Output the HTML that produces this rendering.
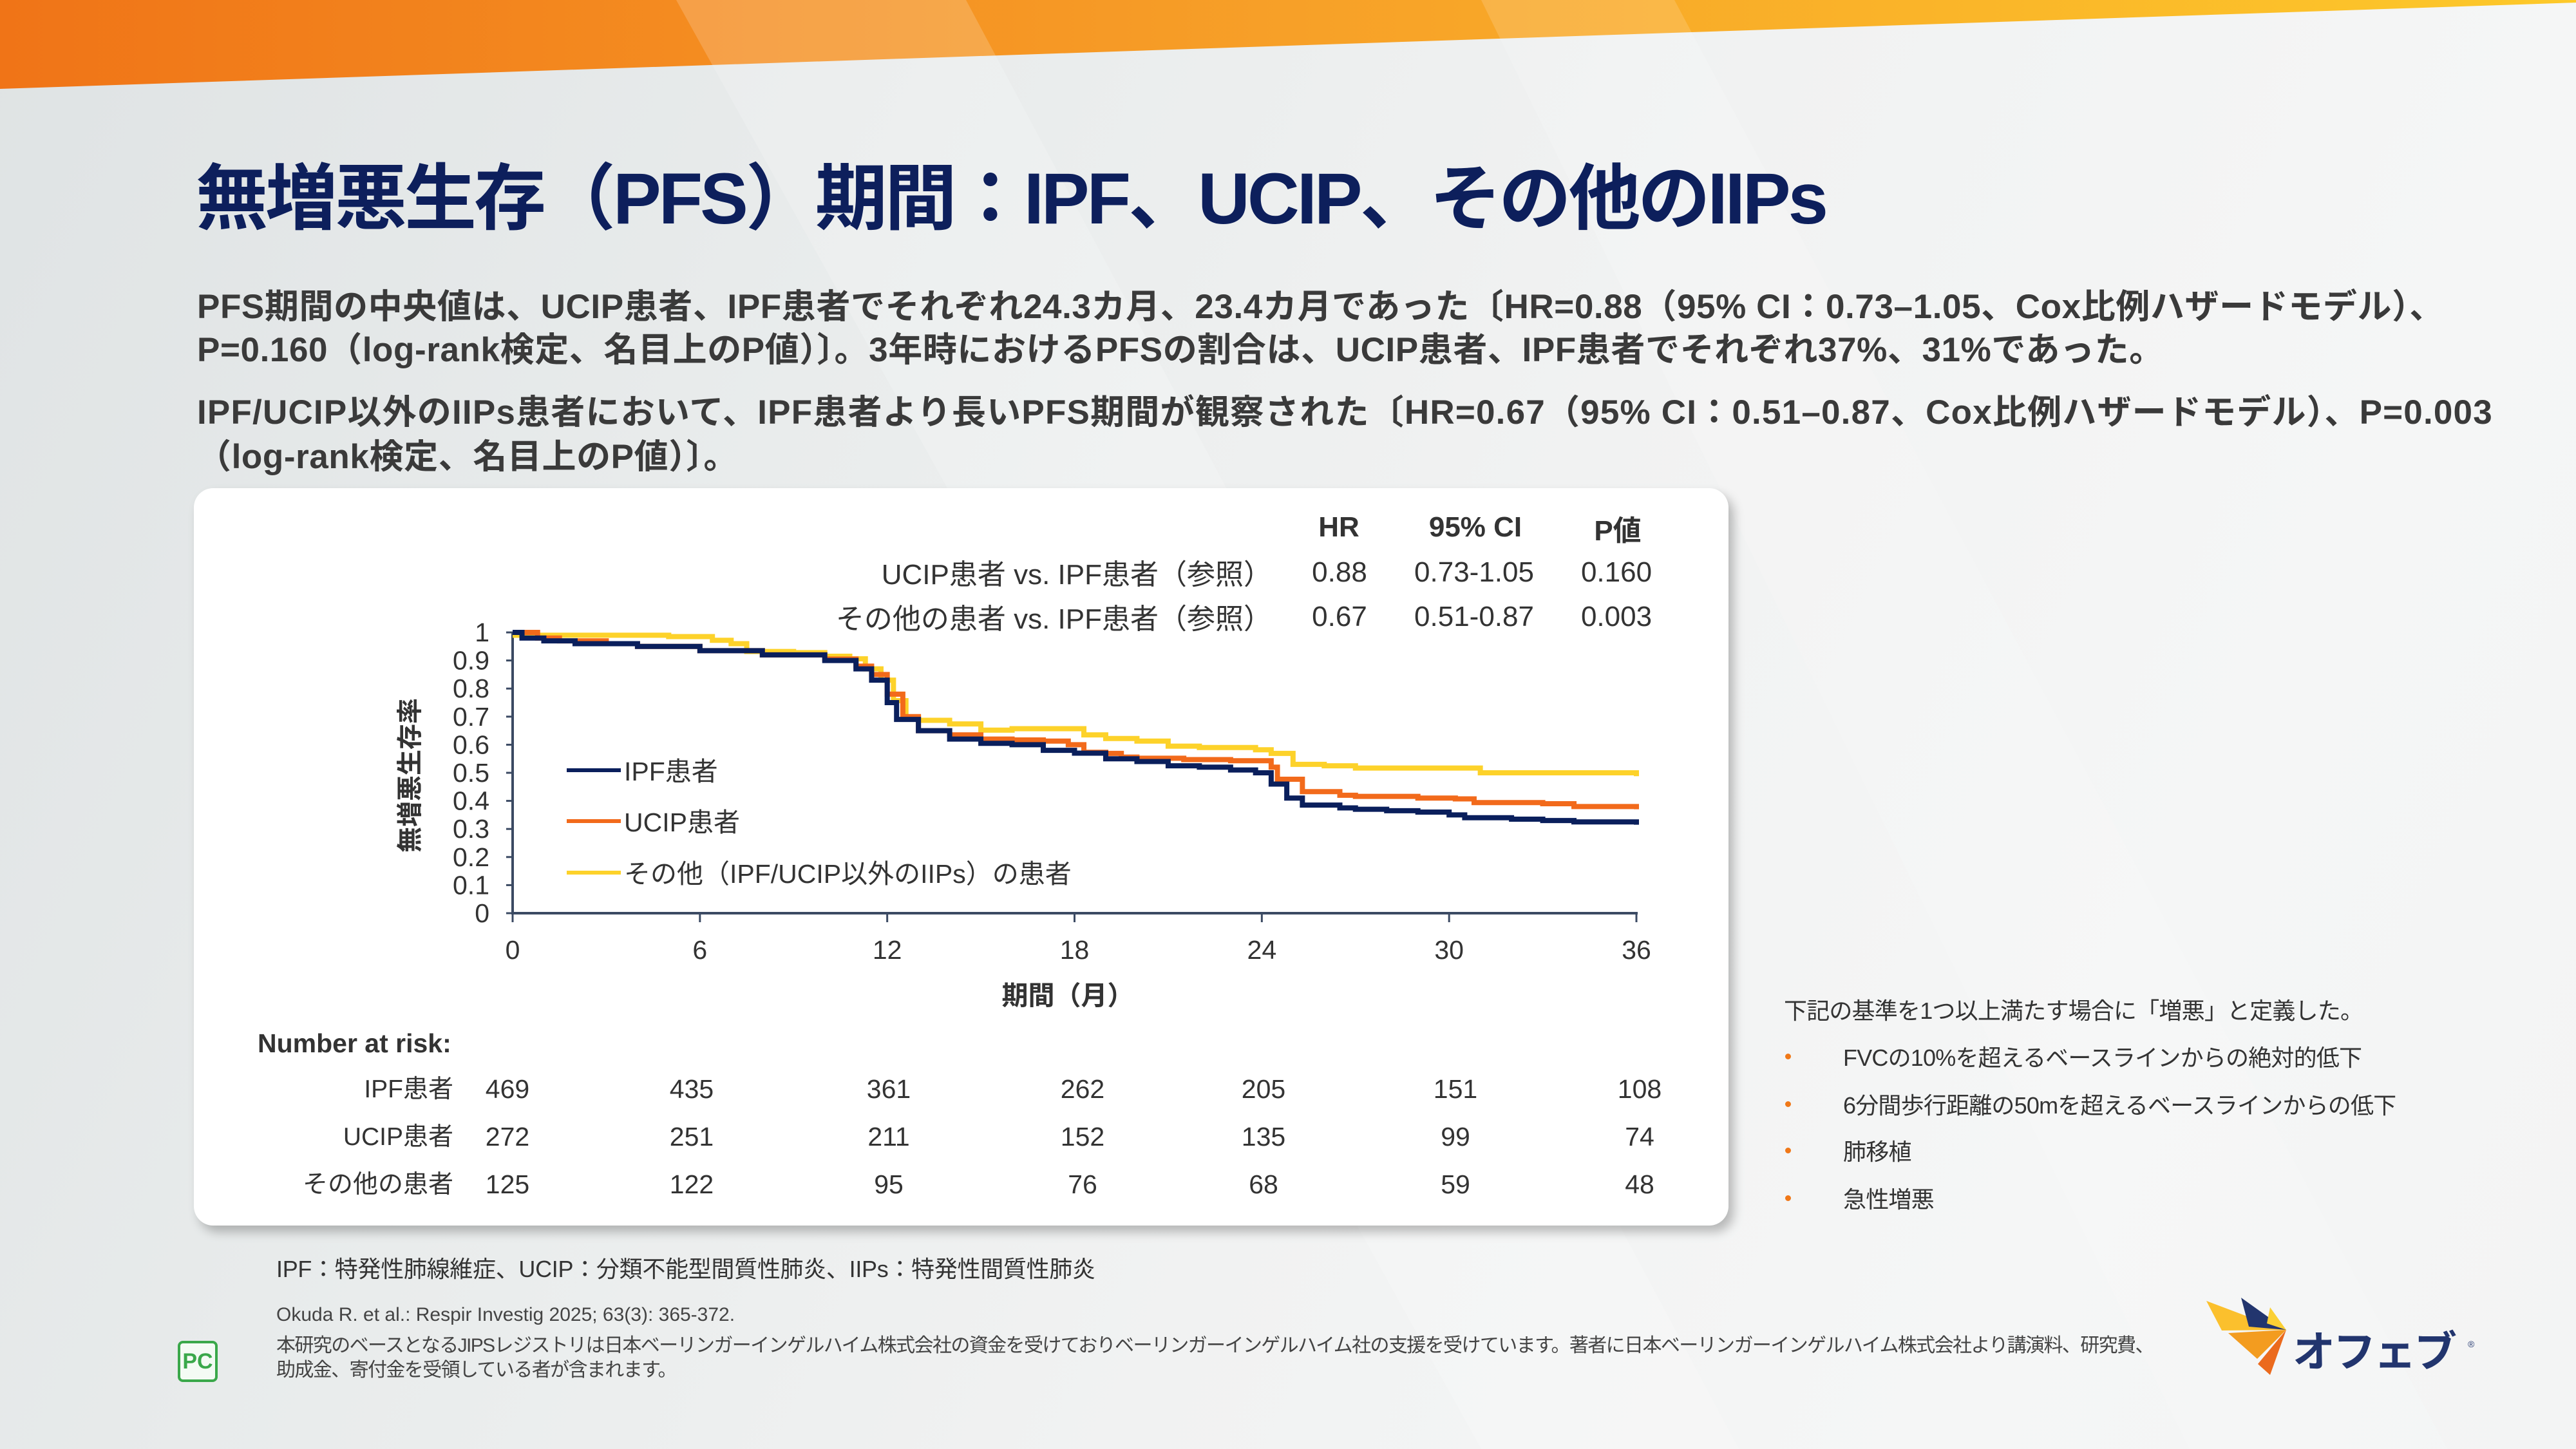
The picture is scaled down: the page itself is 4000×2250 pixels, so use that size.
<!DOCTYPE html>
<html><head><meta charset="utf-8">
<style>
html,body{margin:0;padding:0}
body{width:4000px;height:2250px;position:relative;overflow:hidden;
background:linear-gradient(115deg,#dfe3e4 0%,#e9ecec 30%,#f1f2f2 55%,#f5f6f6 80%,#f3f4f4 100%);
font-family:"Liberation Sans","Noto Sans CJK JP",sans-serif;color:#333}
.a{position:absolute;white-space:nowrap}
.b{font-weight:bold}
.body{font-size:53px;font-weight:bold;color:#3a3a3a;left:306px;letter-spacing:0.6px}
.card{position:absolute;left:301px;top:758px;width:2383px;height:1145px;background:#fff;border-radius:30px;box-shadow:8px 10px 16px rgba(0,0,0,0.25)}
.t{font-size:44px;color:#333}
.c{transform:translateX(-50%)}
.r{transform:translateX(-100%)}
.crit{font-size:36px;color:#333;letter-spacing:-0.8px}
.dot{position:absolute;width:9px;height:9px;border-radius:50%;background:#f07818}
</style></head><body>
<svg class="a" style="left:0;top:0" width="4000" height="200">
<defs><linearGradient id="og" x1="0" x2="1" y1="0" y2="0">
<stop offset="0" stop-color="#f07417"/><stop offset="0.5" stop-color="#f7a028"/><stop offset="1" stop-color="#fdc92a"/></linearGradient></defs>
<polygon points="0,0 4000,0 4000,4 0,138" fill="url(#og)"/>
</svg>
<svg class="a" style="left:0;top:0" width="4000" height="2250">
<polygon points="1050,0 1500,0 2700,2250 2300,2250" fill="#ffffff" opacity="0.18"/>
<polygon points="2300,0 2600,0 3800,2250 3400,2250" fill="#ffffff" opacity="0.15"/>
</svg>

<div class="a b" style="left:304px;top:218px;font-size:112px;color:#0d1f5c;letter-spacing:-4px">無増悪生存（PFS）期間：IPF、UCIP、その他のIIPs</div>

<div class="a body" style="top:434px">PFS期間の中央値は、UCIP患者、IPF患者でそれぞれ24.3カ月、23.4カ月であった〔HR=0.88（95% CI：0.73–1.05、Cox比例ハザードモデル）、</div>
<div class="a body" style="top:501px">P=0.160（log-rank検定、名目上のP値）〕。3年時におけるPFSの割合は、UCIP患者、IPF患者でそれぞれ37%、31%であった。</div>
<div class="a body" style="top:598px;letter-spacing:1.2px">IPF/UCIP以外のIIPs患者において、IPF患者より長いPFS期間が観察された〔HR=0.67（95% CI：0.51–0.87、Cox比例ハザードモデル）、P=0.003</div>
<div class="a body" style="top:667px">（log-rank検定、名目上のP値）〕。</div>

<div class="card"></div>

<div class="a t b c" style="left:2079px;top:794px">HR</div>
<div class="a t b c" style="left:2291px;top:794px">95% CI</div>
<div class="a t b c" style="left:2512px;top:788px">P値</div>
<div class="a t r" style="left:1975px;top:856px">UCIP患者 vs. IPF患者（参照）</div>
<div class="a t r" style="left:1975px;top:925px">その他の患者 vs. IPF患者（参照）</div>
<div class="a t c" style="left:2080px;top:864px">0.88</div>
<div class="a t c" style="left:2289px;top:864px">0.73-1.05</div>
<div class="a t c" style="left:2510px;top:864px">0.160</div>
<div class="a t c" style="left:2080px;top:933px">0.67</div>
<div class="a t c" style="left:2289px;top:933px">0.51-0.87</div>
<div class="a t c" style="left:2510px;top:933px">0.003</div>

<svg class="a" style="left:0;top:0" width="4000" height="2250" id="ch">
<g id="ax" stroke="#3b4a63" stroke-width="4" fill="none">
<line x1="796" y1="982" x2="796" y2="1420"/>
<line x1="794" y1="1418" x2="2543" y2="1418"/>
</g>
<g id="series" fill="none" stroke-width="8" stroke-linejoin="miter"></g>
<g id="lab" font-family="Liberation Sans, Noto Sans CJK JP, sans-serif" font-size="41" fill="#333"></g>
</svg>

<div class="a b" style="left:633px;top:1204px;font-size:40px;color:#333;transform:translate(-50%,-50%) rotate(-90deg)">無増悪生存率</div>
<div class="a b c" style="left:1658px;top:1512px;font-size:41px;color:#333">期間（月）</div>

<div class="a" style="left:880px;top:1193px;width:84px;height:6px;background:#0a1f5c"></div>
<div class="a t" style="left:969px;top:1164px;font-size:41px">IPF患者</div>
<div class="a" style="left:880px;top:1272px;width:84px;height:6px;background:#f26a1b"></div>
<div class="a t" style="left:969px;top:1243px;font-size:41px">UCIP患者</div>
<div class="a" style="left:880px;top:1352px;width:84px;height:6px;background:#fdd22a"></div>
<div class="a t" style="left:969px;top:1323px;font-size:41px">その他（IPF/UCIP以外のIIPs）の患者</div>

<div class="a t b" style="left:400px;top:1597px;font-size:41px">Number at risk:</div>
<div id="risk"></div>

<div class="a crit" style="left:2770px;top:1541px">下記の基準を1つ以上満たす場合に「増悪」と定義した。</div>
<div class="dot" style="left:2772px;top:1636px"></div><div class="a crit" style="left:2862px;top:1614px">FVCの10%を超えるベースラインからの絶対的低下</div>
<div class="dot" style="left:2772px;top:1710px"></div><div class="a crit" style="left:2862px;top:1688px">6分間歩行距離の50mを超えるベースラインからの低下</div>
<div class="dot" style="left:2772px;top:1782px"></div><div class="a crit" style="left:2862px;top:1760px">肺移植</div>
<div class="dot" style="left:2772px;top:1856px"></div><div class="a crit" style="left:2862px;top:1834px">急性増悪</div>

<div class="a" style="left:429px;top:1942px;font-size:36px;color:#333;letter-spacing:-0.3px">IPF：特発性肺線維症、UCIP：分類不能型間質性肺炎、IIPs：特発性間質性肺炎</div>
<div class="a" style="left:429px;top:2025px;font-size:30px;color:#444">Okuda R. et al.: Respir Investig 2025; 63(3): 365-372.</div>
<div class="a" style="left:429px;top:2064px;font-size:30px;color:#444;letter-spacing:-1.6px">本研究のベースとなるJIPSレジストリは日本ベーリンガーインゲルハイム株式会社の資金を受けておりベーリンガーインゲルハイム社の支援を受けています。著者に日本ベーリンガーインゲルハイム株式会社より講演料、研究費、</div>
<div class="a" style="left:429px;top:2102px;font-size:30px;color:#444;letter-spacing:-1.6px">助成金、寄付金を受領している者が含まれます。</div>

<div class="a" style="left:276px;top:2082px;width:54px;height:56px;border:4px solid #3aa84a;border-radius:8px;color:#3aa84a;font-weight:bold;font-size:34px;line-height:56px;text-align:center;background:#f4fbf4">PC</div>

<svg class="a" style="left:3420px;top:2010px" width="440" height="150" viewBox="0 0 440 150">
<polygon points="6,10 80,38 130,55 30,56" fill="#fbc02d"/>
<polygon points="60,5 130,55 72,50" fill="#22356e"/>
<polygon points="105,20 130,55 100,45" fill="#fbd034"/>
<polygon points="40,60 130,55 85,100" fill="#f39c1f"/>
<polygon points="130,55 105,125 86,108" fill="#eb6a1d"/>
<text x="140" y="112" font-family="Liberation Sans, Noto Sans CJK JP, sans-serif" font-weight="bold" font-size="66" fill="#22356e" letter-spacing="-3">オフェブ</text>
<text x="412" y="82" font-size="14" fill="#22356e">®</text>
</svg>

<script>
var X=function(m){return 796+m*(2541-796)/36},Y=function(s){return 1418-s*436};
var lab=document.getElementById('lab'),ns='http://www.w3.org/2000/svg';
function T(x,y,s,anchor){var t=document.createElementNS(ns,'text');t.setAttribute('x',x);t.setAttribute('y',y);t.setAttribute('text-anchor',anchor);t.textContent=s;lab.appendChild(t);}
for(var i=0;i<=10;i++){var v=i/10;T(760,Y(v)+14,i==0?'0':(i==10?'1':v.toFixed(1)),'end');
 var l=document.createElementNS(ns,'line');l.setAttribute('x1',786);l.setAttribute('x2',796);l.setAttribute('y1',Y(v));l.setAttribute('y2',Y(v));l.setAttribute('stroke','#3b4a63');l.setAttribute('stroke-width',3);document.getElementById('ax').appendChild(l);}
for(var m=0;m<=36;m+=6){T(X(m),1489,String(m),'middle');
 var l=document.createElementNS(ns,'line');l.setAttribute('x1',X(m));l.setAttribute('x2',X(m));l.setAttribute('y1',1418);l.setAttribute('y2',1432);l.setAttribute('stroke','#3b4a63');l.setAttribute('stroke-width',3);document.getElementById('ax').appendChild(l);}
var ipf=[[0,1],[0.3,0.98],[1,0.97],[2,0.96],[4,0.95],[6,0.935],[8,0.92],[10,0.9],[11,0.87],[11.5,0.83],[12,0.75],[12.3,0.69],[13,0.65],[14,0.62],[15,0.605],[16,0.6],[17,0.58],[18,0.57],[19,0.55],[20,0.54],[21,0.525],[22,0.52],[23,0.51],[23.8,0.5],[24.3,0.46],[24.8,0.41],[25.3,0.385],[26.5,0.375],[27,0.37],[28,0.365],[29,0.36],[30,0.35],[30.5,0.34],[32,0.335],[33,0.33],[34,0.325],[35,0.325],[36,0.315]];
var ucip=[[0,1],[0.8,0.98],[1.5,0.97],[3,0.96],[4,0.95],[6,0.935],[8,0.92],[10,0.905],[11,0.88],[11.5,0.85],[12,0.78],[12.5,0.7],[13,0.65],[14,0.635],[15,0.62],[16,0.617],[17,0.613],[17.8,0.6],[18.3,0.573],[19,0.569],[19.5,0.556],[20,0.552],[21.5,0.547],[23,0.543],[24,0.543],[24.3,0.52],[24.5,0.477],[25.3,0.433],[26.5,0.42],[27,0.416],[29,0.41],[30.2,0.407],[30.8,0.394],[33,0.39],[34,0.38],[35.9,0.38],[36,0.37]];
var oth=[[0,0.99],[4.8,0.99],[5,0.985],[6.4,0.972],[7,0.96],[7.5,0.932],[9,0.928],[10,0.915],[10.8,0.906],[11.3,0.87],[11.8,0.83],[12.2,0.757],[12.6,0.696],[13,0.687],[14,0.674],[15,0.652],[16,0.657],[17.9,0.657],[18.3,0.635],[19,0.622],[20,0.613],[21,0.595],[22,0.59],[23,0.59],[23.8,0.582],[24.3,0.569],[25,0.53],[26,0.525],[27,0.517],[30.5,0.517],[31,0.5],[35.9,0.5],[36,0.488]];
function P(d,c){var s='M'+X(d[0][0])+','+Y(d[0][1]);for(var i=1;i<d.length;i++){s+=' L'+X(d[i][0])+','+Y(d[i-1][1])+' L'+X(d[i][0])+','+Y(d[i][1]);}
 var p=document.createElementNS(ns,'path');p.setAttribute('d',s);p.setAttribute('stroke',c);document.getElementById('series').appendChild(p);}
P(oth,'#fdd22a');P(ucip,'#f26a1b');P(ipf,'#0a1f5c');
var rows=[['IPF患者',[469,435,361,262,205,151,108]],['UCIP患者',[272,251,211,152,135,99,74]],['その他の患者',[125,122,95,76,68,59,48]]];
var xs=[788,1074,1380,1681,1962,2260,2546],ys=[1668,1742,1816],h='';
rows.forEach(function(r,i){h+='<div class="a t r" style="left:704px;top:'+(ys[i]-8)+'px;font-size:39px">'+r[0]+'</div>';
 r[1].forEach(function(v,j){h+='<div class="a t c" style="left:'+xs[j]+'px;top:'+ys[i]+'px;font-size:41px">'+v+'</div>';});});
document.getElementById('risk').innerHTML=h;
</script>
</body></html>
